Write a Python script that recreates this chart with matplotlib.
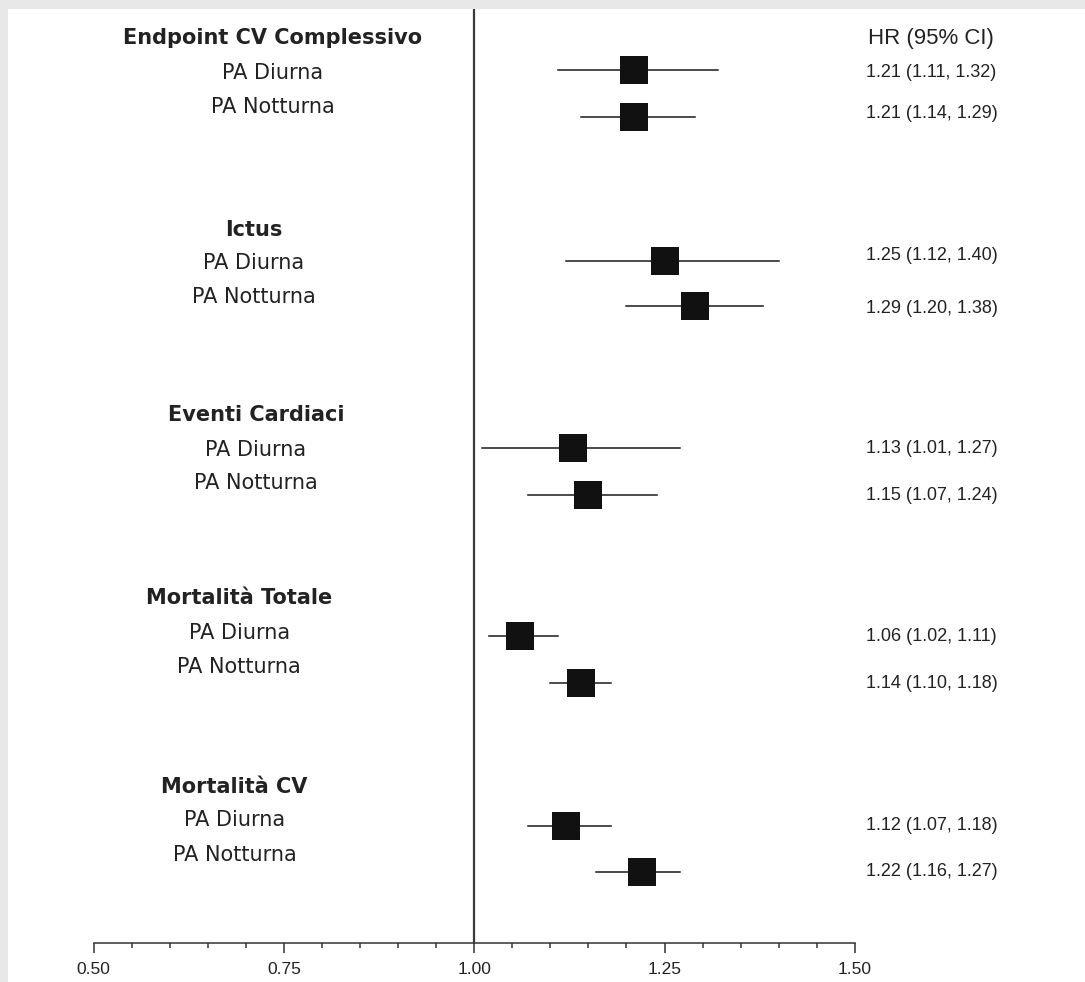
import matplotlib as mpl
import matplotlib.pyplot as plt
import numpy as np

mpl.rcParams['font.family'] = 'DejaVu Sans'

# outcome groups and the two blood-pressure measures inside each
groups = ["Endpoint CV Complessivo", "Ictus", "Eventi Cardiaci",
          "Mortalità Totale", "Mortalità CV"]
subgroups = ["PA Diurna", "PA Notturna"]

# hazard ratios with 95% CI, two rows per group (diurnal, nocturnal)
hr = [1.21, 1.21, 1.25, 1.29, 1.13, 1.15, 1.06, 1.14, 1.12, 1.22]
ci_low = [1.11, 1.14, 1.12, 1.20, 1.01, 1.07, 1.02, 1.10, 1.07, 1.16]
ci_high = [1.32, 1.29, 1.40, 1.38, 1.27, 1.24, 1.11, 1.18, 1.18, 1.27]

x_ticks = [0.50, 0.75, 1.00, 1.25, 1.50]
x_tick_labels = ["0.50", "0.75", "1.00", "1.25", "1.50"]
header = "HR (95% CI)"

# vertical layout (rows counted downward from the top of the panel)
marker_y = [70, 117, 261, 306, 448, 495, 636, 683, 826, 872]
value_y = [73, 114, 256, 309, 449, 496, 637, 684, 826, 872]
title_y = [38, 230, 415, 598, 787]
sub_y = [(73, 107), (263, 297), (450, 483), (633, 667), (820, 855)]
label_x = [0.735, 0.710, 0.713, 0.691, 0.685]
axis_y = 942.7

fig = plt.figure(figsize=(10.85, 9.82), dpi=100)
fig.patch.set_facecolor('#e8e8e8')
ax = fig.add_axes([8 / 1085, 0, 1 - 8 / 1085, 1 - 9 / 982])
ax.set_facecolor('white')
ax.set_xlim(0.3873, 1.8025)
ax.set_ylim(982, 9)

# reference line at HR = 1
ax.vlines(1.0, axis_y, 9, color='#3a3a3a', linewidth=1.6, zorder=1)

text_col = '#222222'
for name, ty, (y1, y2), lx in zip(groups, title_y, sub_y, label_x):
    ax.text(lx, ty, name, ha='center', va='center', fontsize=15,
            fontweight='bold', color=text_col)
    ax.text(lx, y1, subgroups[0], ha='center', va='center', fontsize=15, color=text_col)
    ax.text(lx, y2, subgroups[1], ha='center', va='center', fontsize=15, color=text_col)

for h, lo, hi, my, vy in zip(hr, ci_low, ci_high, marker_y, value_y):
    ax.plot([lo, hi], [my, my], color='#1a1a1a', linewidth=1.1, zorder=2)
    ax.plot(h, my, marker='s', markersize=20.5, color='#111111',
            markeredgewidth=0, zorder=3)
    ax.text(1.5145, vy, "{:.2f} ({:.2f}, {:.2f})".format(h, lo, hi),
            ha='left', va='center', fontsize=13, family='Liberation Sans',
            color=text_col)

ax.text(1.5172, 39, header, ha='left', va='center', fontsize=16,
        family='Liberation Sans', color=text_col)

# bottom axis drawn as a floating spine
for side in ['top', 'right', 'left']:
    ax.spines[side].set_visible(False)
ax.spines['bottom'].set_position(('data', axis_y))
ax.spines['bottom'].set_bounds(0.5, 1.5)
ax.spines['bottom'].set_color('#333333')
ax.spines['bottom'].set_linewidth(1.1)
ax.set_xticks(x_ticks)
ax.set_xticklabels(x_tick_labels, family='Liberation Sans', fontsize=12.5, color=text_col)
ax.set_xticks(np.arange(0.5, 1.501, 0.05), minor=True)
ax.tick_params(axis='x', which='major', direction='out', length=7.2, width=1.1,
               color='#333333', pad=7)
ax.tick_params(axis='x', which='minor', direction='out', length=3.6, width=1.1,
               color='#333333')
ax.set_yticks([])

fig.savefig("out.png", dpi=100, facecolor=fig.get_facecolor())
